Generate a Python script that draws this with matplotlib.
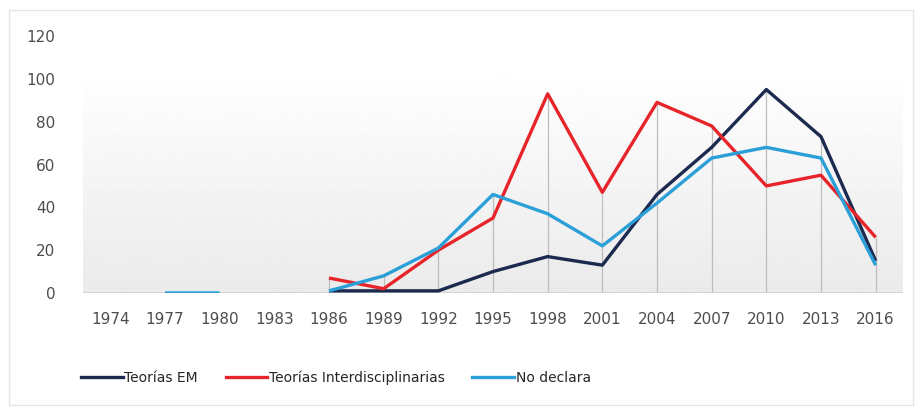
import numpy as np
import matplotlib.pyplot as plt
from matplotlib import font_manager
from matplotlib.patches import Rectangle
from matplotlib.lines import Line2D

# Data
years = ["1974", "1977", "1980", "1983", "1986", "1989", "1992", "1995",
         "1998", "2001", "2004", "2007", "2010", "2013", "2016"]
nan = np.nan
teorias_em = [nan, nan, nan, nan, 1, 1, 1, 10, 17, 13, 46, 68, 95, 73, 15]
teorias_inter = [nan, nan, nan, nan, 7, 2, 20, 35, 93, 47, 89, 78, 50, 55, 26]
no_declara = [nan, 0, 0, nan, 1, 8, 21, 46, 37, 22, 42, 63, 68, 63, 13]
y_ticks = [0, 20, 40, 60, 80, 100, 120]

names = ["Teorías EM", "Teorías Interdisciplinarias", "No declara"]
colors = ["#1b2a4e", "#e8242b", "#2a9fd8"]

installed = {f.name for f in font_manager.fontManager.ttflist}
family = "Liberation Sans Narrow" if "Liberation Sans Narrow" in installed else "DejaVu Sans"
plt.rcParams['font.family'] = [family, 'DejaVu Sans']
label_size = 12.5 if family != "DejaVu Sans" else 11
legend_size = 12.5 if family != "DejaVu Sans" else 10

fig = plt.figure(figsize=(9.2, 4.09), dpi=100)
ax = fig.add_axes([83 / 920, (409 - 293) / 409, 820 / 920, (293 - 36) / 409])

x = np.arange(len(years))
series = [teorias_em, teorias_inter, no_declara]

# gradient background of the plot area (white on top, light grey at the base)
grad = np.concatenate([np.ones(30), np.linspace(1.0, 0.92, 226)]).reshape(-1, 1)
ax.imshow(grad, cmap="gray", vmin=0, vmax=1, aspect="auto",
          extent=(-0.5, 14.5, 0, 120), zorder=0)

# drop lines
stack = np.array(series, dtype=float)
tops = np.nanmax(np.where(np.isnan(stack), -1, stack), axis=0)
for xi, t in zip(x, tops):
    if t > 0:
        ax.vlines(xi, 0, t, color="#bdbdbd", lw=0.9, zorder=1)

ax.axhline(0, color="#d0d0d0", lw=1.2, zorder=1)

for vals, c, n in zip(series, colors, names):
    ax.plot(x, vals, color=c, lw=2.4, label=n, zorder=3, solid_capstyle="butt")

ax.set_xlim(-0.5, 14.5)
ax.set_ylim(0, 120)
ax.set_xticks(x)
ax.set_xticklabels(years)
ax.set_yticks(y_ticks)
ax.tick_params(length=0, labelsize=label_size, labelcolor="#4d4d4d")
ax.tick_params(axis="y", pad=20)
ax.tick_params(axis="x", pad=14)
for s in ax.spines.values():
    s.set_visible(False)

handles = [Line2D([], [], color=c, lw=2.4) for c in colors]
fig.legend(handles, names, loc="center", bbox_to_anchor=(336 / 920, 1 - 378 / 409),
           ncol=3, frameon=False, fontsize=legend_size, handlelength=3.0,
           handletextpad=0.1, columnspacing=2.0, labelcolor="#262626")

fig.patches.append(Rectangle((9 / 920, 4 / 409), 904 / 920, 395 / 409,
                             transform=fig.transFigure, fill=False,
                             edgecolor="#e6e6e6", lw=1.0))

fig.savefig("out.png", dpi=100, facecolor="white")
